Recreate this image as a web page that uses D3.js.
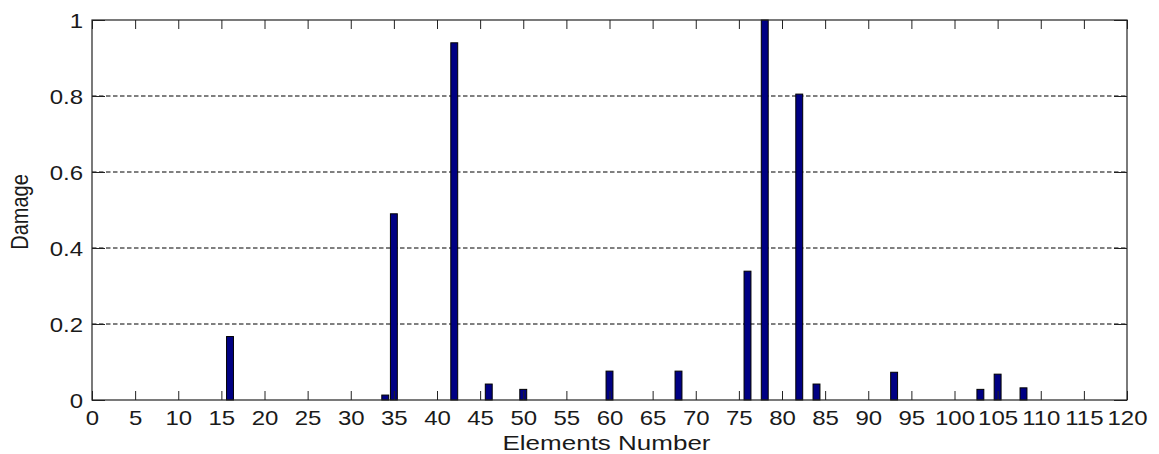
<!DOCTYPE html>
<html lang="en">
<head>
  <meta charset="UTF-8">
  <script src="https://d3js.org/d3.v7.min.js"></script>
  <title>Damage by element</title>
  <style>
    body { margin: 0; background: #fff; }
    text { font-family: "Liberation Sans", Arial, sans-serif; fill: #1a1a1a; }
  </style>
</head>
<body>
<div id="chart"></div>
<script>
  // element numbers and damage
  var elements = [16, 34, 35, 42, 46, 50, 60, 68, 76, 78, 82, 84, 93, 103, 105, 108];
  var damage = [0.167, 0.013, 0.49, 0.94, 0.042, 0.028, 0.076, 0.076, 0.339, 1.0, 0.805, 0.042, 0.073, 0.028, 0.068, 0.032];
  var xTicks = d3.range(0, 121, 5);
  var yTicks = [0, 0.2, 0.4, 0.6, 0.8, 1];
  var gridTicks = [0.2, 0.4, 0.6, 0.8];

  var W = 1159, H = 454;
  var margin = { top: 20, right: 32, bottom: 54, left: 92 };
  var width = W - margin.left - margin.right,
      height = H - margin.top - margin.bottom;

  var svg = d3.select("#chart").append("svg")
    .attr("width", W).attr("height", H);
  var g = svg.append("g")
    .attr("transform", "translate(" + margin.left + "," + margin.top + ")");

  var x = d3.scaleLinear().domain([0, 120]).range([0, width]);
  var y = d3.scaleLinear().domain([0, 1]).range([height, 0]);

  // dashed grid
  g.selectAll(".grid").data(gridTicks).enter().append("line")
    .attr("x1", 0).attr("x2", width)
    .attr("y1", d => y(d)).attr("y2", d => y(d))
    .attr("stroke", "#000").attr("stroke-width", 1)
    .attr("stroke-dasharray", "4.5,2.5");

  // bars (width 0.8 like matlab)
  var bw = x(0.8) - x(0);
  g.selectAll(".bar").data(elements).enter().append("rect")
    .attr("x", (d) => x(d) - bw / 2)
    .attr("y", (d, i) => y(damage[i]))
    .attr("width", bw)
    .attr("height", (d, i) => height - y(damage[i]))
    .attr("fill", "#000083")
    .attr("stroke", "#000")
    .attr("stroke-width", 1);

  function styleAxis(a) {
    a.select(".domain").remove();
    a.selectAll("line").attr("stroke", "#222");
  }

  // bottom axis, inward ticks
  var xb = g.append("g").attr("transform", "translate(0," + height + ")")
    .call(d3.axisBottom(x).tickValues(xTicks).tickSizeInner(-9).tickSizeOuter(0).tickFormat(d3.format("d")));
  styleAxis(xb);
  xb.selectAll("text")
    .attr("y", 25).attr("dy", 0)
    .attr("font-size", 20)
    .attr("transform", "scale(1.2,1)");

  // top axis
  var xt = g.append("g")
    .call(d3.axisTop(x).tickValues(xTicks).tickSizeInner(-9).tickSizeOuter(0).tickFormat(""));
  styleAxis(xt);

  // left axis
  var yl = g.append("g")
    .call(d3.axisLeft(y).tickValues(yTicks).tickSizeInner(-13).tickSizeOuter(0).tickFormat(d3.format("")));
  styleAxis(yl);
  yl.selectAll("text")
    .attr("x", -7.5).attr("dy", "0.35em")
    .attr("font-size", 20)
    .attr("transform", "scale(1.2,1)");

  // right axis
  var yr = g.append("g").attr("transform", "translate(" + width + ",0)")
    .call(d3.axisRight(y).tickValues(yTicks).tickSizeInner(-13).tickSizeOuter(0).tickFormat(""));
  styleAxis(yr);

  // frame
  g.append("rect")
    .attr("width", width).attr("height", height)
    .attr("fill", "none").attr("stroke", "#222").attr("stroke-width", 1.2);

  // axis titles
  svg.append("text")
    .attr("transform", "translate(" + (margin.left + width / 2 - 3) + ",450) scale(1.3,1)")
    .attr("text-anchor", "middle")
    .attr("font-size", 20)
    .text("Elements Number");

  svg.append("text")
    .attr("transform", "translate(28," + (margin.top + height / 2 + 2) + ") rotate(-90) scale(1,1.2)")
    .attr("text-anchor", "middle")
    .attr("font-size", 20)
    .text("Damage");
</script>
</body>
</html>
